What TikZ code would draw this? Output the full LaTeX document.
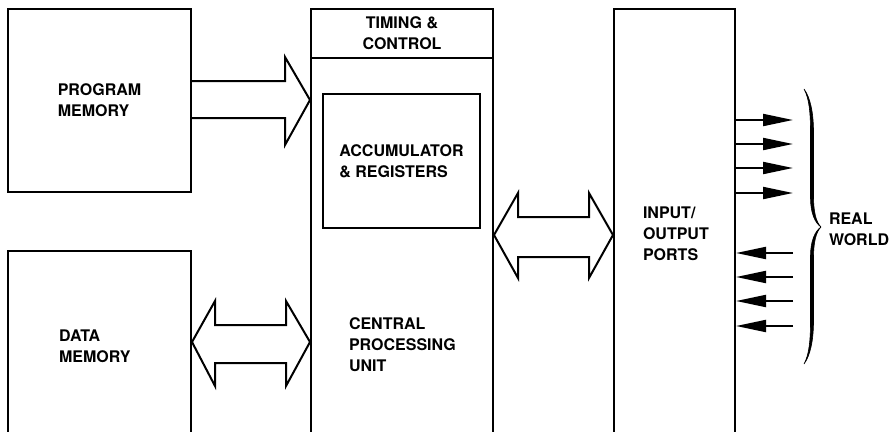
\documentclass[tikz,border=0pt]{standalone}
\usepackage{fontspec}
\setmainfont{TeX Gyre Heros}
\usetikzlibrary{arrows.meta}
\begin{document}
\begin{tikzpicture}[x=1pt,y=-1pt, line width=2pt,
  box/.style={draw, rectangle, inner sep=0pt},
  lbl/.style={font=\fontsize{16}{21}\selectfont\bfseries, align=left, inner sep=0pt},
  fat/.style={draw, line join=miter},
  sig/.style={-{Triangle[length=30pt,width=12pt]}, line width=2pt},
  bracefill/.style={fill=black, draw=black, line width=0.6pt}]
\useasboundingbox (0,0) rectangle (891,431);
\clip (0,0) rectangle (891,431);
% boxes
\node[box, minimum width=183pt, minimum height=183pt] (pm) at (99.5,100.5) {};
\node[box, minimum width=183pt, minimum height=194pt] (dm) at (99.5,348) {};
\node[box, minimum width=182pt, minimum height=436pt] (cpu) at (402,227) {};
\node[box, minimum width=121pt, minimum height=436pt] (io) at (674.5,227) {};
\node[box, minimum width=157pt, minimum height=134pt] (acc) at (401.5,161) {};
\draw (cpu.west |- 0,58) -- (cpu.east |- 0,58);
% labels
\node[lbl] (pmt) at (pm.center) {PROGRAM\\MEMORY};
\node[lbl, anchor=west] (dmt) at (58,346) {DATA\\MEMORY};
\node[lbl, align=center] (tct) at (402,33) {TIMING \&\\CONTROL};
\node[lbl] (acct) at (acc.center) {ACCUMULATOR\\\& REGISTERS};
\node[lbl, anchor=west] (cput) at (348,345) {CENTRAL\\PROCESSING\\UNIT};
\node[lbl, anchor=west] (iot) at (642,234) {INPUT/\\OUTPUT\\PORTS};
\node[lbl, anchor=west] (rwt) at (828,229) {REAL\\WORLD};
% fat arrows
\draw[fat] (pm.east |- 0,81) -- (285,81) -- (285,57) -- (cpu.west |- 0,100)
  -- (285,145) -- (285,118) -- (pm.east |- 0,118);
\draw[fat] (dm.east |- 0,342) -- (215,301) -- (215,325) -- (286,325) -- (286,301)
  -- (cpu.west |- 0,342) -- (286,386) -- (286,363) -- (215,363) -- (215,386) -- cycle;
\draw[fat] (cpu.east |- 0,235) -- (518,193) -- (518,217) -- (589,217) -- (589,193)
  -- (io.west |- 0,235) -- (589,278) -- (589,257) -- (518,257) -- (518,278) -- cycle;
% signal lines
\coordinate (o1) at (793,120);
\coordinate (o2) at (793,144);
\coordinate (o3) at (793,168);
\coordinate (o4) at (793,193);
\coordinate (i1) at (793,253);
\coordinate (i2) at (793,277);
\coordinate (i3) at (793,301);
\coordinate (i4) at (793,326);
\foreach \c in {o1,o2,o3,o4} \draw[sig] (io.east |- \c) -- (\c);
\foreach \c in {i1,i2,i3,i4} \draw[sig] (\c) -- (io.east |- \c);
% brace (tapered)
\draw[bracefill] (804,89) .. controls (810,97) and (813.5,112) .. (813.5,132)
  -- (813.5,196) .. controls (813.5,212) and (816,222) .. (821,227)
  .. controls (815,223) and (810.5,213) .. (810.5,198)
  -- (810.5,132) .. controls (810.5,112) and (809,98) .. (804,89) -- cycle;
\draw[bracefill] (804,364) .. controls (810,356) and (813.5,341) .. (813.5,321)
  -- (813.5,258) .. controls (813.5,242) and (816,232) .. (821,227)
  .. controls (815,231) and (810.5,241) .. (810.5,256)
  -- (810.5,321) .. controls (810.5,341) and (809,355) .. (804,364) -- cycle;
\end{tikzpicture}
\end{document}
